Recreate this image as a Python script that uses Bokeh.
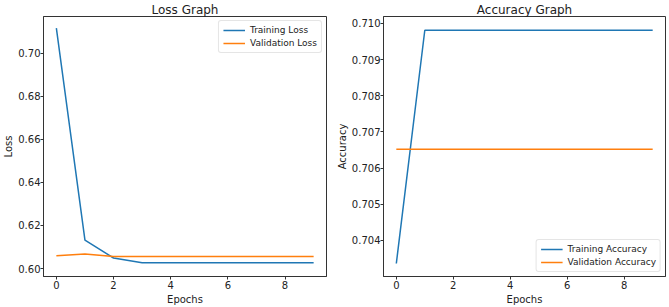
from bokeh.plotting import figure
from bokeh.layouts import row
from bokeh.models import FixedTicker, NumeralTickFormatter, Range1d
from bokeh.embed import file_html
from bokeh.resources import INLINE

epochs = list(range(10))
train_loss = [0.7117, 0.6132, 0.6049, 0.6027, 0.6027, 0.6027, 0.6027, 0.6027, 0.6027, 0.6027]
val_loss = [0.6059, 0.6068, 0.6056, 0.6056, 0.6056, 0.6056, 0.6056, 0.6056, 0.6056, 0.6056]
train_acc = [0.70336, 0.70981, 0.70981, 0.70981, 0.70981, 0.70981, 0.70981, 0.70981, 0.70981, 0.70981]
val_acc = [0.70652] * 10
x_ticks = [0, 2, 4, 6, 8]
loss_ticks = [0.60, 0.62, 0.64, 0.66, 0.68, 0.70]
acc_ticks = [0.704, 0.705, 0.706, 0.707, 0.708, 0.709, 0.710]

BLUE = "#1f77b4"
ORANGE = "#ff7f0e"
FONT = "DejaVu Sans"


def make(title, ylabel, ticks, fmt, yr, width, left, right):
    p = figure(width=width, height=307, output_backend="svg",
               toolbar_location=None, title=title,
               x_range=Range1d(-0.45, 9.45), y_range=Range1d(*yr),
               min_border_left=left, min_border_right=right,
               min_border_top=16, min_border_bottom=30)
    p.title.align = "center"
    p.title.text_font = FONT
    p.title.text_font_size = "12px"
    p.title.text_font_style = "normal"
    p.title.text_color = "#222222"
    p.title.text_line_height = 1.0
    p.title.offset = 0
    p.title.standoff = 0
    p.xgrid.visible = False
    p.ygrid.visible = False
    p.outline_line_color = "#333333"
    p.outline_line_width = 1
    p.outline_line_alpha = 1
    p.xaxis.ticker = FixedTicker(ticks=x_ticks)
    p.yaxis.ticker = FixedTicker(ticks=ticks)
    p.yaxis.formatter = NumeralTickFormatter(format=fmt)
    for ax in (p.xaxis[0], p.yaxis[0]):
        ax.axis_line_color = "#333333"
        ax.major_tick_line_color = "#333333"
        ax.major_tick_out = 3
        ax.major_tick_in = 0
        ax.minor_tick_out = 0
        ax.minor_tick_in = 0
        ax.major_label_text_font = FONT
        ax.major_label_text_font_size = "10px"
        ax.major_label_text_color = "#222222"
        ax.major_label_standoff = 0
        ax.axis_label_text_font = FONT
        ax.axis_label_text_font_size = "10px"
        ax.axis_label_text_font_style = "normal"
        ax.axis_label_text_color = "#222222"
        ax.axis_label_standoff = 1
    p.xaxis.major_label_standoff = 1
    p.xaxis.axis_label_standoff = 2
    p.xaxis.axis_label = "Epochs"
    p.yaxis.axis_label = ylabel
    return p


p1 = make("Loss Graph", "Loss", loss_ticks, "0.00", (0.5963, 0.7171), 333, 41, 7)
p1.line(epochs, train_loss, color=BLUE, line_width=1.5, legend_label="Training Loss")
p1.line(epochs, val_loss, color=ORANGE, line_width=1.5, legend_label="Validation Loss")

p2 = make("Accuracy Graph", "Accuracy", acc_ticks, "0.000", (0.70300, 0.71019), 336, 47, 4)
p2.line(epochs, train_acc, color=BLUE, line_width=1.5, legend_label="Training Accuracy")
p2.line(epochs, val_acc, color=ORANGE, line_width=1.5, legend_label="Validation Accuracy")

for p, loc in ((p1, "top_right"), (p2, "bottom_right")):
    lg = p.legend[0]
    lg.location = loc
    lg.label_text_font = FONT
    lg.label_text_font_size = "9px"
    lg.label_text_color = "#222222"
    lg.glyph_width = 22
    lg.glyph_height = 10
    lg.label_height = 10
    lg.spacing = 3
    lg.padding = 4
    lg.margin = 4
    lg.label_standoff = 5
    lg.border_line_color = "#cccccc"
    lg.border_line_width = 1
    lg.border_radius = 3
    lg.background_fill_alpha = 0.8

layout = row(p1, p2, spacing=0)
open("out.html", "w").write(file_html(layout, INLINE))
